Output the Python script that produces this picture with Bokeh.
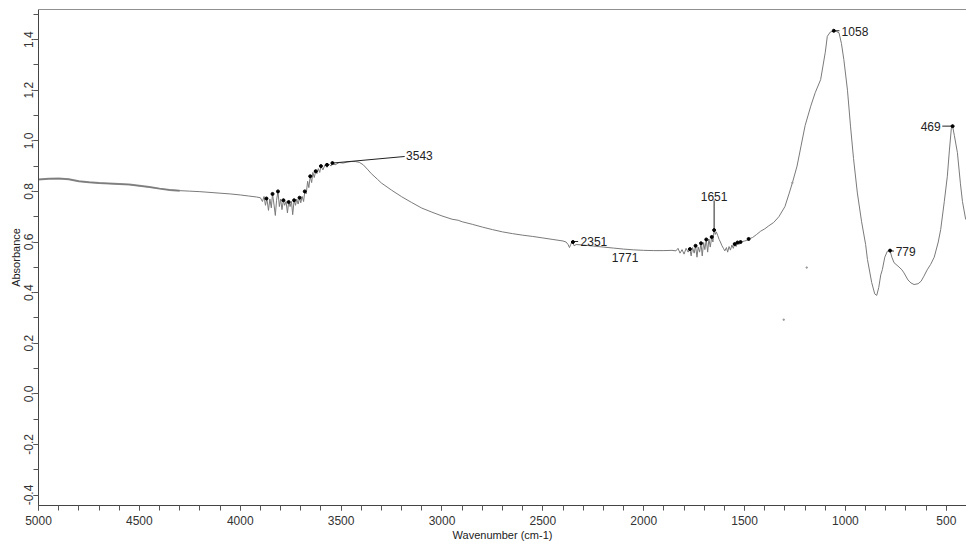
from bokeh.plotting import figure
from bokeh.models import Range1d, SingleIntervalTicker, NumeralTickFormatter, Span, Label
from bokeh.embed import file_html
from bokeh.resources import INLINE

# ---- spectrum (wavenumber cm-1, absorbance) ----
wavenumber = [
    5000, 4950, 4900, 4850, 4800, 4750, 4700, 4650, 4600, 4550, 4500, 4450, 4400, 4350, 4300,
    4250, 4200, 4150, 4100, 4050, 4000, 3960, 3920,
    3900, 3890, 3882, 3875, 3868, 3860, 3853, 3846, 3840, 3833, 3826, 3820, 3813, 3806, 3800,
    3793, 3786, 3780, 3773, 3766, 3760, 3753, 3746, 3740, 3733, 3726, 3720, 3713, 3706, 3700,
    3693, 3686, 3680, 3673, 3666, 3660, 3653, 3646, 3640, 3633, 3626, 3620, 3613, 3606, 3600,
    3590, 3580, 3570, 3560, 3550, 3543, 3530, 3510, 3490, 3470, 3450, 3430, 3410, 3390, 3370,
    3350, 3320, 3300, 3250, 3200, 3150, 3100, 3050, 3000, 2950, 2920, 2900, 2850, 2800, 2750,
    2700, 2650, 2600, 2550, 2500, 2450, 2400, 2385, 2375, 2368, 2362, 2356, 2350, 2345, 2335,
    2300, 2250, 2200, 2150, 2100, 2050, 2000, 1950, 1900, 1860, 1840, 1830, 1820, 1810, 1800,
    1790, 1780, 1771, 1765, 1758, 1750, 1743, 1736, 1730, 1723, 1716, 1710, 1703, 1697, 1690,
    1683, 1677, 1670, 1663, 1657, 1651, 1645, 1640, 1633, 1626, 1620, 1612, 1605, 1598, 1590,
    1584, 1577, 1570, 1563, 1556, 1549, 1542, 1535, 1528, 1520, 1510, 1500, 1490, 1480, 1460,
    1440, 1420, 1400, 1380, 1356, 1330, 1300, 1280, 1263, 1240, 1220, 1200, 1172, 1150, 1123,
    1100, 1090, 1075, 1058, 1045, 1032, 1020, 1008, 990, 975, 960, 941, 920, 900, 891,
    870, 855, 845, 835, 825, 817, 805, 792, 779, 770, 759, 740, 720, 710, 690,
    675, 660, 640, 625, 611, 595, 578, 560, 540, 528, 510, 495, 485, 475, 469,
    460, 445, 430, 420, 404,
]
absorbance = [
    0.847, 0.850, 0.851, 0.848, 0.840, 0.836, 0.833, 0.831, 0.829, 0.827, 0.822, 0.817, 0.811, 0.806, 0.803,
    0.801, 0.799, 0.796, 0.793, 0.790, 0.786, 0.782, 0.778,
    0.775, 0.760, 0.780, 0.745, 0.772, 0.725, 0.770, 0.735, 0.790, 0.750, 0.705, 0.765, 0.800, 0.740, 0.770,
    0.728, 0.765, 0.745, 0.760, 0.715, 0.758, 0.740, 0.760, 0.708, 0.765, 0.745, 0.770, 0.750, 0.775, 0.755,
    0.780, 0.760, 0.800, 0.790, 0.840, 0.815, 0.860, 0.835, 0.875, 0.855, 0.880, 0.870, 0.890, 0.875, 0.900,
    0.885, 0.905, 0.895, 0.908, 0.900, 0.912, 0.905, 0.914, 0.912, 0.916, 0.918, 0.918, 0.915, 0.905, 0.888,
    0.870, 0.848, 0.833, 0.805, 0.779, 0.756, 0.734, 0.718, 0.703, 0.690, 0.686, 0.680, 0.670, 0.659, 0.649,
    0.640, 0.633, 0.627, 0.622, 0.616, 0.610, 0.604, 0.600, 0.590, 0.578, 0.590, 0.600, 0.597, 0.585, 0.590,
    0.588, 0.584, 0.580, 0.576, 0.572, 0.569, 0.567, 0.566, 0.566, 0.567, 0.565, 0.575, 0.556, 0.570, 0.552,
    0.575, 0.560, 0.572, 0.545, 0.578, 0.556, 0.585, 0.540, 0.580, 0.560, 0.595, 0.545, 0.598, 0.570, 0.610,
    0.560, 0.612, 0.580, 0.620, 0.600, 0.647, 0.630, 0.640, 0.625, 0.610, 0.600, 0.585, 0.575, 0.565, 0.578,
    0.560, 0.582, 0.568, 0.588, 0.575, 0.592, 0.582, 0.598, 0.590, 0.600, 0.602, 0.604, 0.606, 0.612, 0.618,
    0.630, 0.643, 0.652, 0.664, 0.677, 0.700, 0.740, 0.790, 0.834, 0.900, 0.980, 1.060, 1.137, 1.190, 1.242,
    1.350, 1.413, 1.430, 1.435, 1.432, 1.427, 1.385, 1.321, 1.200, 1.058, 0.930, 0.794, 0.680, 0.590, 0.531,
    0.440, 0.395, 0.389, 0.420, 0.470, 0.491, 0.540, 0.564, 0.566, 0.540, 0.518, 0.505, 0.490, 0.478, 0.450,
    0.438, 0.432, 0.435, 0.445, 0.465, 0.490, 0.511, 0.540, 0.600, 0.649, 0.760, 0.860, 0.960, 1.050, 1.058,
    1.020, 0.953, 0.830, 0.760, 0.689,
]

# picked peaks (small black dots)
pick_wn = [3870, 3840, 3813, 3786, 3760, 3733, 3706, 3680, 3653, 3626, 3600, 3570, 3543,
           2351, 1771, 1743, 1716, 1690, 1663, 1651, 1549, 1535, 1520, 1480,
           1058, 779, 469]
pick_abs = [0.772, 0.790, 0.800, 0.765, 0.758, 0.765, 0.775, 0.800, 0.860, 0.880, 0.900, 0.905, 0.912,
            0.600, 0.572, 0.585, 0.595, 0.610, 0.620, 0.647, 0.592, 0.598, 0.600, 0.612,
            1.435, 0.566, 1.058]

# stray specks
speck_wn = [1192, 1306, 1263]
speck_abs = [0.499, 0.293, 0.834]

# peak labels: text, anchor (wn, abs), alignment
label_text = ["3543", "2351", "1771", "1651", "1058", "779", "469"]
label_wn = [3178, 2313, 2159, 1651, 1019, 751, 528]
label_abs = [0.942, 0.602, 0.540, 0.778, 1.433, 0.563, 1.057]
label_align = ["left", "left", "left", "center", "left", "left", "right"]
label_base = ["alphabetic", "middle", "middle", "alphabetic", "middle", "middle", "middle"]

# leader lines from peak to label
lead_x0 = [3543, 2351, 1651, 1058, 779, 469]
lead_y0 = [0.912, 0.602, 0.647, 1.435, 0.566, 1.058]
lead_x1 = [3185, 2325, 1651, 1030, 760, 520]
lead_y1 = [0.938, 0.602, 0.764, 1.435, 0.564, 1.058]

x_lo, x_hi = 5000, 400
y_lo, y_hi = -0.4415, 1.519

p = figure(width=966, height=543, x_range=Range1d(x_lo, x_hi), y_range=Range1d(y_lo, y_hi),
           output_backend="svg", toolbar_location=None,
           min_border_left=38, min_border_right=0, min_border_top=9, min_border_bottom=30)
p.xgrid.grid_line_color = None
p.ygrid.grid_line_color = None
p.outline_line_color = None
p.background_fill_color = "white"

font = "Liberation Sans"
for ax in (p.xaxis[0], p.yaxis[0]):
    ax.axis_line_color = "#444444"
    ax.major_tick_line_color = "#555555"
    ax.minor_tick_line_color = "#555555"
    ax.major_tick_in = 0
    ax.minor_tick_in = 0
    ax.major_tick_out = 5
    ax.minor_tick_out = 5
    ax.major_label_text_font = font
    ax.major_label_text_font_size = "12px"
    ax.major_label_text_color = "#333333"
    ax.axis_label_text_font = font
    ax.axis_label_text_font_size = "11px"
    ax.axis_label_text_font_style = "normal"
    ax.axis_label_text_color = "#222222"

p.xaxis.ticker = SingleIntervalTicker(interval=500, num_minor_ticks=5)
p.xaxis.axis_label = "Wavenumber (cm-1)"
p.xaxis.major_label_standoff = 5
p.xaxis.axis_label_standoff = 1

p.yaxis.ticker = SingleIntervalTicker(interval=0.2, num_minor_ticks=2)
p.yaxis.formatter = NumeralTickFormatter(format="0.0")
p.yaxis.major_label_orientation = "vertical"
p.yaxis.axis_label = "Absorbance"
p.yaxis.major_label_standoff = 0
p.yaxis.axis_label_standoff = 0

p.add_layout(Span(location=y_hi, dimension="width", line_color="#222222", line_width=1))

n_thick = 15
p.line(wavenumber[:n_thick], absorbance[:n_thick], line_color="#8f8f8f", line_width=2)
p.line(wavenumber, absorbance, line_color="#7a7a7a", line_width=1)

p.segment(x0=lead_x0, y0=lead_y0, x1=lead_x1, y1=lead_y1, line_color="#222222", line_width=1)
p.scatter(pick_wn, pick_abs, size=3, color="black")
p.scatter(speck_wn, speck_abs, size=1.5, color="#999999")

for t, xw, ya, al, bl in zip(label_text, label_wn, label_abs, label_align, label_base):
    p.add_layout(Label(x=xw, y=ya, text=t, text_align=al, text_baseline=bl,
                       text_font=font, text_font_size="12px", text_color="#222222"))

open("out.html", "w").write(file_html(p, INLINE))
